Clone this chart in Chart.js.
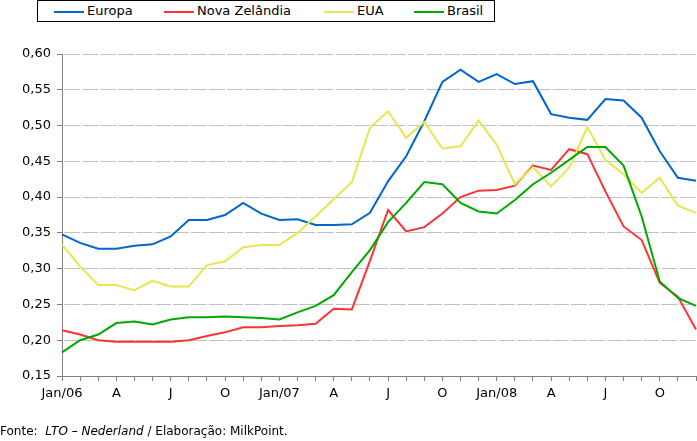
<!DOCTYPE html>
<html>
<head>
<meta charset="utf-8">
<script src="https://cdn.jsdelivr.net/npm/chart.js@4"></script>
<style>
  html, body { margin:0; padding:0; background:#fff; }
  body { width:697px; height:441px; position:relative; overflow:hidden; font-family:"DejaVu Sans", Verdana, sans-serif; }
  #c { position:absolute; left:0; top:0; }
  #legend { position:absolute; left:37px; top:0px; width:456px; height:20px; border:1px solid #000; background:#fff; }
  .li { position:absolute; top:0; height:20px; font-size:13px; line-height:20px; color:#000; white-space:nowrap; }
  .li span.sw { position:absolute; top:10px; width:30px; height:2px; }
  .li span.tx { position:absolute; left:33px; top:0; }
  #src { position:absolute; left:0; top:424px; font-size:12px; line-height:14px; color:#000; white-space:nowrap; }
</style>
</head>
<body>
<canvas id="c" width="697" height="441"></canvas>
<div id="legend"></div>
<div id="src">Fonte:&nbsp; <i>LTO – Nederland</i> / Elaboração: MilkPoint.</div>
<script>
// ---- data ----
const categories = ['Jan/06','Fev/06','Mar/06','Abr/06','Mai/06','Jun/06','Jul/06','Ago/06','Set/06','Out/06','Nov/06','Dez/06',
                    'Jan/07','Fev/07','Mar/07','Abr/07','Mai/07','Jun/07','Jul/07','Ago/07','Set/07','Out/07','Nov/07','Dez/07',
                    'Jan/08','Fev/08','Mar/08','Abr/08','Mai/08','Jun/08','Jul/08','Ago/08','Set/08','Out/08','Nov/08','Dez/08'];
const xTickLabels = ['Jan/06','','','A','','','J','','','O','','',
                     'Jan/07','','','A','','','J','','','O','','',
                     'Jan/08','','','A','','','J','','','O','',''];
const seriesNames = ['Europa','Nova Zelândia','EUA','Brasil'];
const europa = [0.348,0.336,0.328,0.328,0.332,0.334,0.345,0.368,0.368,0.375,0.392,0.377,
                0.368,0.369,0.361,0.361,0.362,0.378,0.422,0.457,0.506,0.561,0.578,0.561,
                0.572,0.558,0.562,0.516,0.511,0.508,0.537,0.535,0.511,0.464,0.427,0.423];
const novaZelandia = [0.214,0.208,0.200,0.198,0.198,0.198,0.198,0.200,0.206,0.211,0.218,0.218,
                0.220,0.221,0.223,0.244,0.243,0.311,0.382,0.352,0.358,0.377,0.400,0.409,
                0.410,0.416,0.444,0.438,0.467,0.460,0.408,0.359,0.340,0.280,0.261,0.215];
const eua = [0.334,0.303,0.277,0.277,0.270,0.283,0.275,0.275,0.305,0.310,0.330,0.333,
                0.333,0.350,0.373,0.397,0.421,0.497,0.520,0.483,0.505,0.468,0.471,0.507,
                0.473,0.418,0.442,0.415,0.441,0.498,0.452,0.432,0.406,0.427,0.388,0.378];
const brasil = [0.183,0.200,0.208,0.224,0.226,0.222,0.229,0.232,0.232,0.233,0.232,0.231,
                0.229,0.239,0.248,0.263,0.295,0.326,0.365,0.392,0.421,0.418,0.392,0.380,
                0.377,0.396,0.418,0.434,0.452,0.470,0.470,0.444,0.373,0.282,0.259,0.248];
const yMin = 0.15, yMax = 0.60, yStep = 0.05;
const colors = ['#0066cc','#ff3333','#e6e64d','#00a800'];

// ---- legend (HTML) ----
const legendPos = [16, 126, 286, 376];
const lg = document.getElementById('legend');
seriesNames.forEach((n,i)=>{
  const d = document.createElement('div');
  d.className='li'; d.style.left = legendPos[i]+'px';
  d.innerHTML = '<span class="sw" style="background:'+colors[i]+'"></span><span class="tx">'+n+'</span>';
  lg.appendChild(d);
});

const allSeries = [europa, novaZelandia, eua, brasil];
const font = {family:'"DejaVu Sans", Verdana, sans-serif', size:13};

new Chart(document.getElementById('c'), {
  type:'line',
  data:{
    labels: categories,
    datasets: allSeries.map((s,i)=>({
      label: seriesNames[i], data: s, borderColor: colors[i], backgroundColor: colors[i],
      borderWidth: 2, pointRadius: 0, tension: 0, fill: false, order: 4-i
    }))
  },
  options:{
    responsive:false, animation:false, devicePixelRatio:1,
    layout:{ padding:{ top:54, left:0, right:1, bottom:0 } },
    plugins:{ legend:{display:false}, tooltip:{enabled:false} },
    scales:{
      x:{
        offset:false,
        afterFit: s => { s.height = 65; s.paddingLeft = 0; s.paddingRight = 0; },
        grid:{ drawOnChartArea:false, drawTicks:true, tickLength:5, tickColor:'#808080', color:'#808080' },
        border:{ color:'#808080', width:1 },
        ticks:{ autoSkip:false, maxRotation:0, minRotation:0, padding:5, color:'#000', font,
                callback:(v,i)=>xTickLabels[i] }
      },
      y:{
        min:yMin, max:yMax,
        afterFit: s => { s.width = 62; s.paddingTop = 0; s.paddingBottom = 0; },
        grid:{ color:'#c0c0c0', lineWidth:1, tickLength:5, tickColor:'#808080' },
        border:{ color:'#808080', width:1, dash:[16.1,2], dashOffset:17 },
        ticks:{ stepSize:yStep, padding:6, color:'#000', font,
                callback:v=>v.toFixed(2).replace('.',',') }
      }
    }
  }
});
</script>
</body>
</html>
